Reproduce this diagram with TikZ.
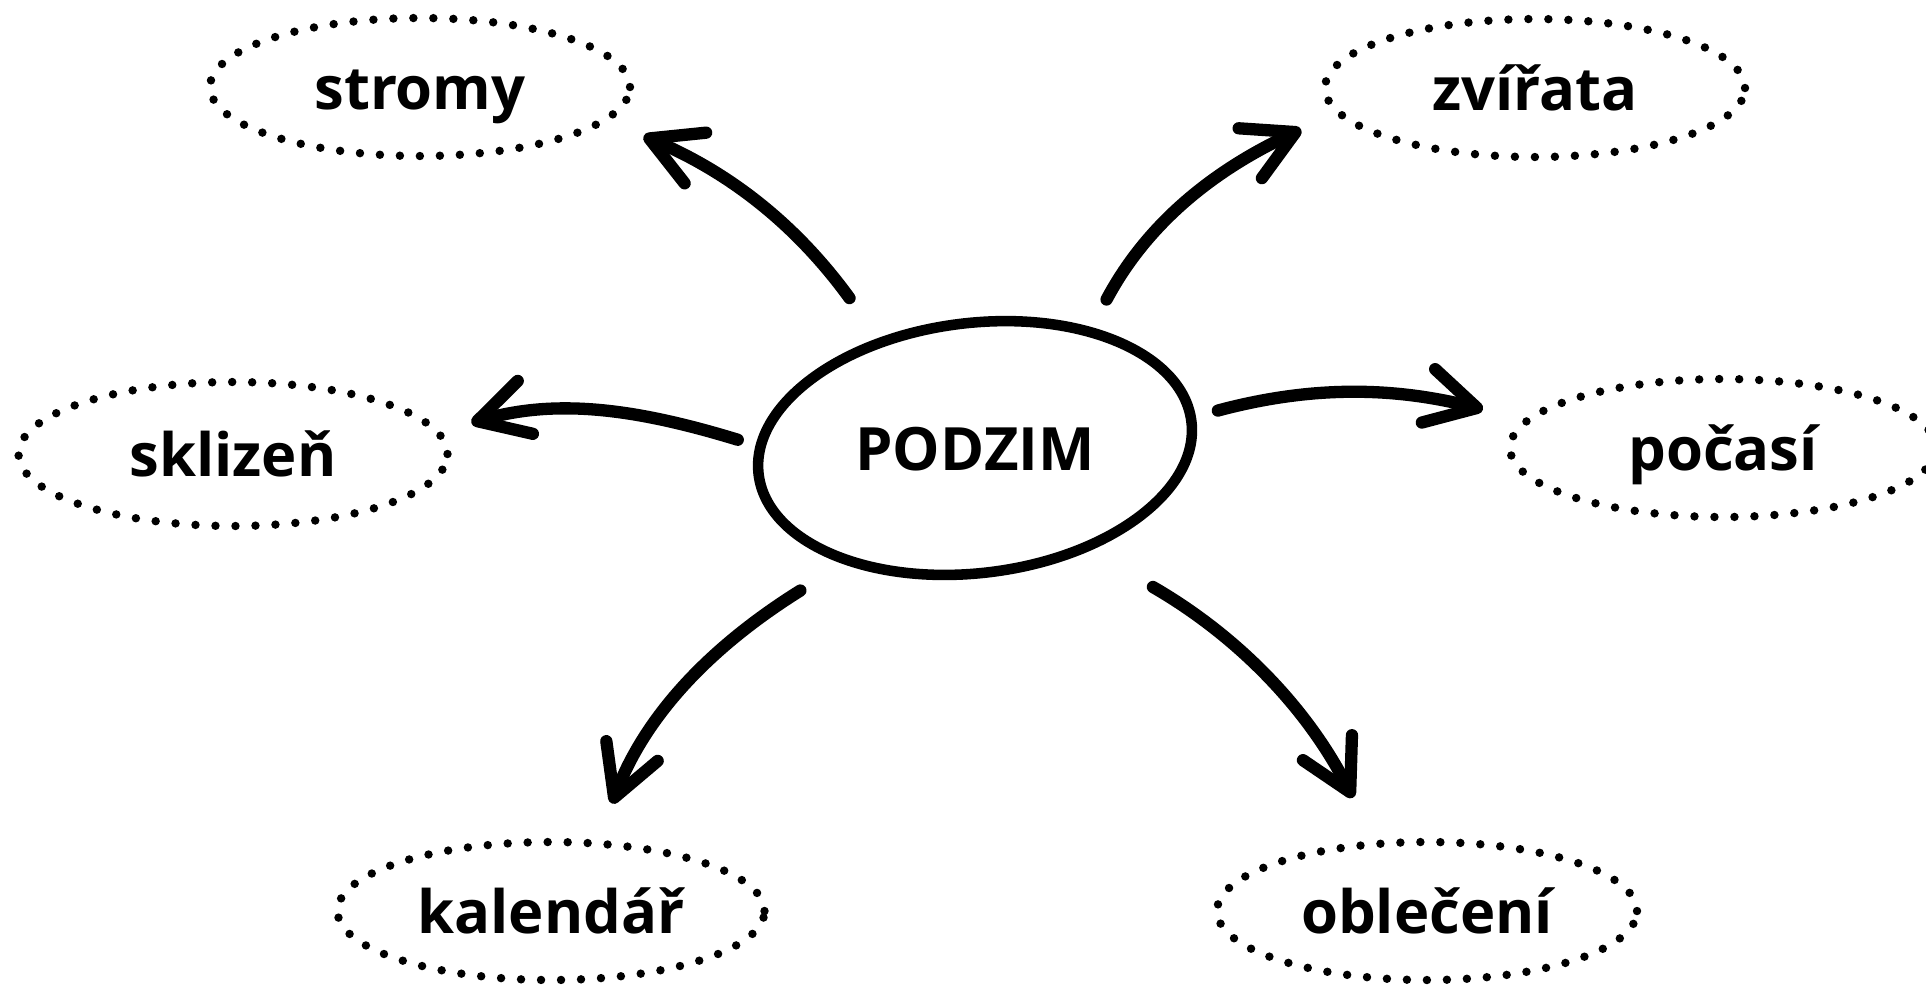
\documentclass[tikz,border=0pt]{standalone}
\usepackage{fontspec}
\setmainfont{Open Sans}
\usetikzlibrary{arrows.meta,shapes.geometric}

\begin{document}
\begin{tikzpicture}[
  topic/.style = {ellipse, draw, line width = 2.4pt, dash pattern = on 0pt off 0.2cm, line cap = round,
                  minimum width = 4.2cm, minimum height = 1.38cm, inner sep = 0pt, outer sep = 0pt,
                  text height = 0.44cm, text depth = 0pt,
                  font = \fontsize{17}{20}\selectfont\bfseries},
  hub/.style   = {ellipse, minimum width = 4.46cm, minimum height = 2.6cm, inner sep = 0pt, outer sep = 0pt,
                  text height = 0.44cm, text depth = 0pt,
                  font = \fontsize{17}{20}\selectfont\bfseries},
  ring/.style  = {line width = 3pt},
  arr/.style   = {line width = 3.5pt, line cap = round,
                  -{Straight Barb[length = 5mm, width = 5.5mm, line cap = round, line join = round]}}
]

  \useasboundingbox (0,0) rectangle (19.26,-9.89);

  % Central topic
  \node[hub] (podzim) at (9.75,-4.48) {PODZIM};
  \draw[ring, rotate around = {7:(podzim.center)}] (podzim.center) ellipse (2.18 and 1.25);

  % Subtopics
  \node[topic] (stromy)   at ( 4.20,-0.87) {stromy};
  \node[topic] (zvirata)  at (15.35,-0.88) {zvířata};
  \node[topic, minimum width = 4.29cm, minimum height = 1.44cm] (sklizen) at (2.33,-4.54) {sklizeň};
  \node[topic, minimum width = 4.26cm] (pocasi)   at (17.23,-4.48) {počasí};
  \node[topic, minimum width = 4.27cm] (kalendar) at ( 5.51,-9.11) {kalendář};
  \node[topic] (obleceni) at (14.27,-9.11) {oblečení};

  % Arrows out of the centre
  \draw[arr, shorten <= 0.42cm, shorten >= 0.42cm] (podzim.131) to[out = 126, in = -23]  (stromy.-10);
  \draw[arr, shorten <= 0.41cm, shorten >= 0.41cm] (podzim.45)  to[out = 62,  in = -155] (zvirata.187);
  \draw[arr, shorten <= 0.15cm, shorten >= 0.35cm] (podzim.179) to[out = 163, in = 16]   (sklizen.6);
  \draw[arr, shorten <= 0.27cm, shorten >= 0.46cm] (podzim.8)   to[out = 15,  in = 166]  (pocasi.172);
  \draw[arr, shorten <= 0.63cm, shorten >= 0.43cm] (podzim.222) to[out = 212, in = 69]   (kalendar.56);
  \draw[arr, shorten <= 0.62cm, shorten >= 0.52cm] (podzim.-41) to[out = -30, in = 117]  (obleceni.127);

\end{tikzpicture}
\end{document}
